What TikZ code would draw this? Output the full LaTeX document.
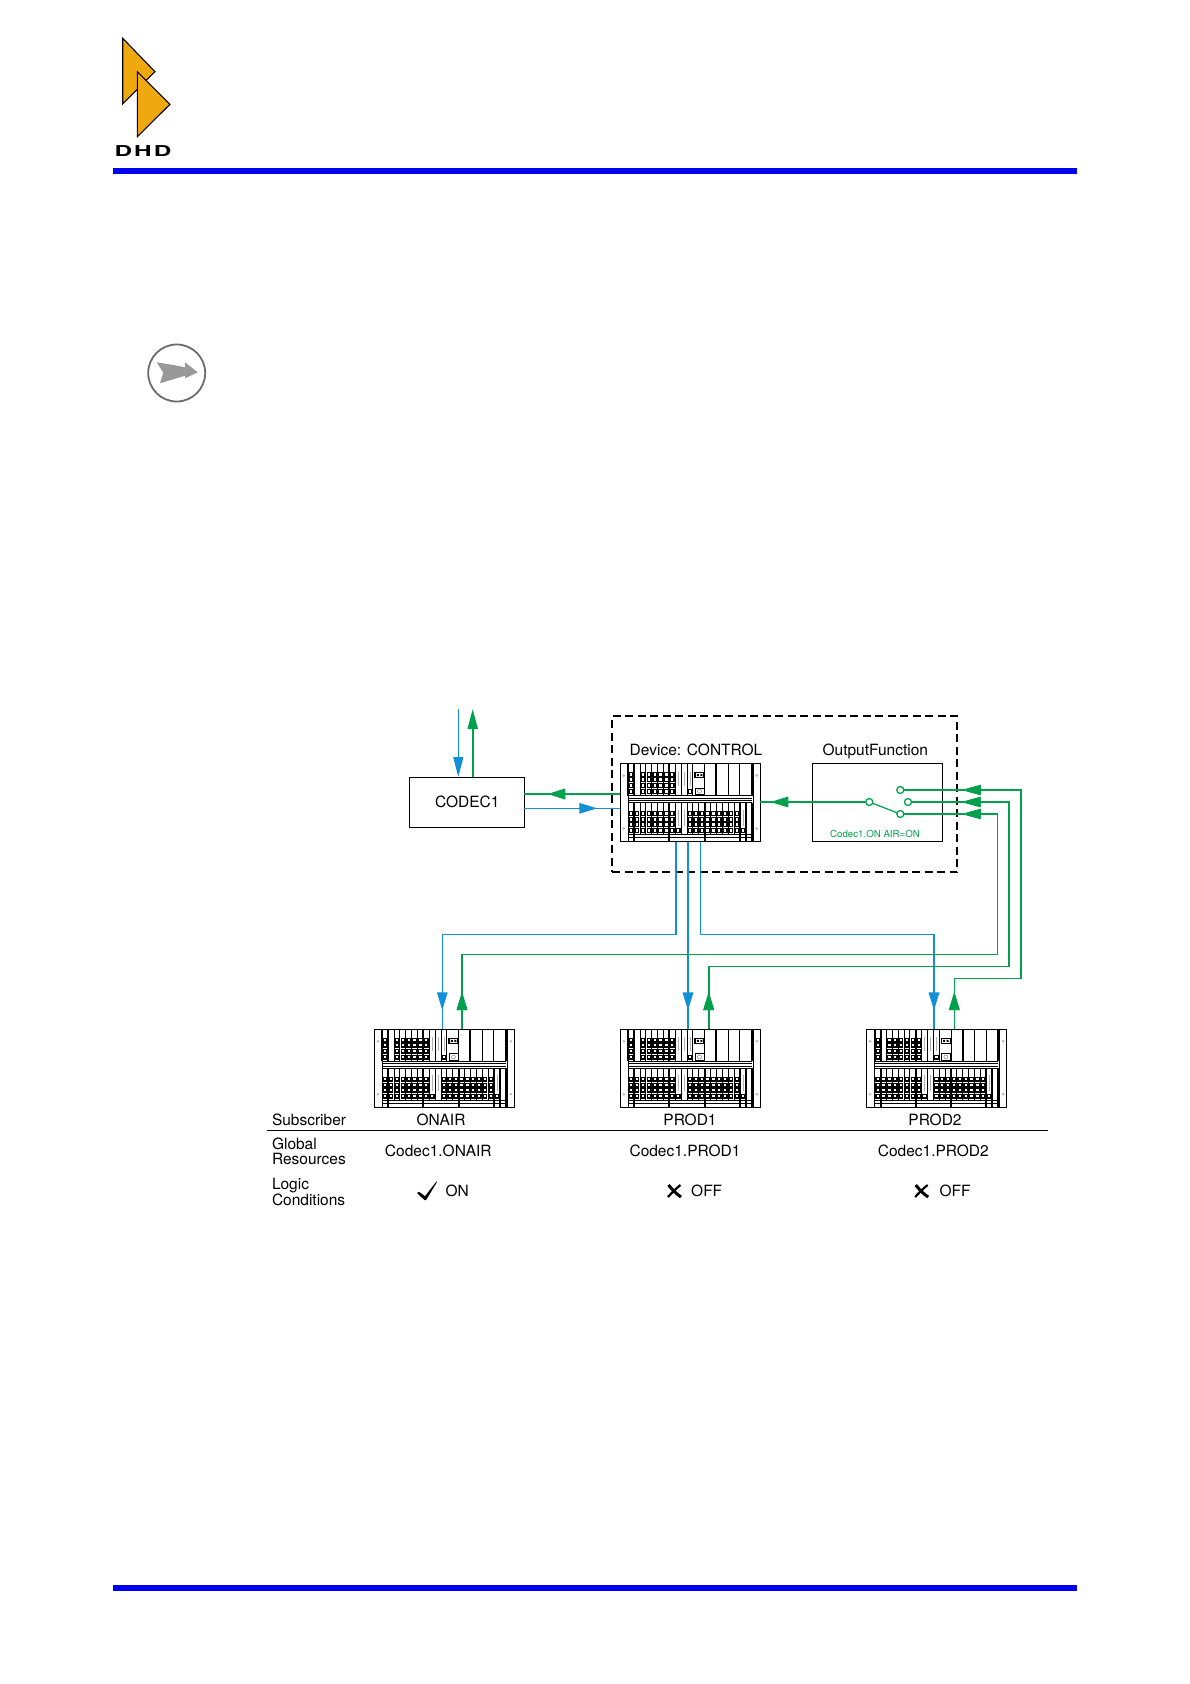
\documentclass[tikz,border=0pt]{standalone}
\usepackage{fontspec}
\setmainfont{TeX Gyre Heros}
\usetikzlibrary{arrows.meta,decorations.markings}
\definecolor{lblue}{HTML}{1190D6}
\definecolor{lgreen}{HTML}{00A04C}
\definecolor{dhdorange}{HTML}{EFA90F}
\definecolor{barblue}{HTML}{0000F0}
\newcommand{\rackk}[2]{%
  \node[rackbox,anchor=north west] (#1) at (#2) {};
  \begin{scope}[shift={(#1.north west)}]
    \foreach \k in {0,...,21} \draw[line width=.9] ({8+5.87*\k},39) -- ({8+5.87*\k},71);
    \foreach \k in {1,7,13,19,20,21} \draw[line width=1.9] ({8+5.87*\k},39) -- ({8+5.87*\k},78);
    \foreach \k in {0,...,11,13,15,17,19,21} \draw[line width=.9] ({8+5.87*\k},0) -- ({8+5.87*\k},32);
    \foreach \k in {0,1,7,15,21} \draw[line width=1.9] ({8+5.87*\k},0) -- ({8+5.87*\k},32);
    \draw[line width=1] (8,0) -- (8,78) (133,0) -- (133,78);
    \draw[line width=1.4] (8,0) -- (133,0);
    \foreach \yy in {32,34.5,37,39,71,74} \draw[line width=1] (8,\yy) -- (131.3,\yy);
    \foreach \k in {0,2,3,4,5,6,7} \foreach \r in {11,16,22,28}
      \draw[line width=1.2,fill=white] ({9.2+5.87*\k},{\r-1.8}) rectangle +(3.5,3.5);
    \foreach \k in {0,1,2,3,4,5,6,7,10,11,12,13,14,15,16,17,18} \foreach \r in {50,56,61,67}
      \draw[line width=1.2,fill=white] ({9.2+5.87*\k},{\r-1.8}) rectangle +(3.5,3.5);
    \foreach \k in {8,19} \draw[line width=1.2,fill=white] ({9.2+5.87*\k},65.2) rectangle +(3.5,3.5);
    \draw[line width=1.2,fill=white] ({9.2+5.87*10},26.2) rectangle +(3.5,3.5);
    \foreach \k in {8,9,10} \draw[gray!60,line width=.5] ({11+5.87*\k},8) -- ({11+5.87*\k},22);
    \foreach \k in {8,9,19} \draw[gray!60,line width=.5] ({11+5.87*\k},46) -- ({11+5.87*\k},62);
    \draw[line width=1.3,fill=white] (74.7,9) rectangle (83.7,14);
    \fill (76.5,10.5) rectangle +(2,2) (80,10.5) rectangle +(2,2);
    \draw[line width=1] (74.7,24.5) rectangle (83.7,31);
    \draw[gray,line width=.5] (79.2,27.7) circle (2);
    \foreach \xx in {3.5,136.5} \foreach \yy in {12,65} \draw[gray!70,line width=.5] (\xx,\yy) circle (1);
  \end{scope}}
\tikzset{
  rackbox/.style={draw,line width=1,rectangle,minimum width=140pt,minimum height=78pt,inner sep=0pt,outer sep=0pt},
  plainbox/.style={draw,line width=1,rectangle,inner sep=0pt,outer sep=0pt},
  dashbox/.style={draw,line width=1.1,rectangle,dash pattern=on 8pt off 4.5pt,inner sep=0pt,outer sep=0pt},
  lab/.style={anchor=base,inner sep=0pt,outer sep=0pt,font=\fontsize{15.5}{15.5}\selectfont},
  labl/.style={lab,anchor=base west},
  thinb/.style={draw=lblue,line width=1.2},
  thickb/.style={draw=lblue,line width=2},
  thing/.style={draw=lgreen,line width=1.2},
  thickg/.style={draw=lgreen,line width=2.2},
  pin/.style={circle,draw=lgreen,fill=white,line width=1.3,minimum size=7pt,inner sep=0pt,outer sep=0pt},
  headat/.style={decoration={markings,mark=at position #1 with {\arrow{Triangle[length=18pt,width=10.5pt]}}},postaction={decorate}},
  inhead/.style={decoration={markings,mark=at position #1 with {\arrow[lgreen]{Triangle[length=19pt,width=10pt]}}},postaction={decorate}},
  barstyle/.style={fill=barblue},
}
\begin{document}
\begin{tikzpicture}[x=1pt,y=-1pt]
\useasboundingbox[fill=white] (0,0) rectangle (1190,1684);
% page furniture
\fill[barstyle] (113,168) rectangle (1076.7,174);
\fill[barstyle] (113,1585) rectangle (1076.7,1591);
\draw[fill=dhdorange,line width=1.1,line join=miter] (122.7,38.3) -- (155,71.7) -- (122.7,104) -- cycle;
\draw[fill=dhdorange,line width=1.1,line join=miter] (137.3,71.7) -- (170,104.3) -- (137.3,136.7) -- cycle;
\node[anchor=base,inner sep=0pt] (dhd) at (143,156.7) {\fontsize{15}{15}\selectfont\bfseries\scalebox{1.62}[1]{D\kern1.3pt H\kern1.3pt D}};
% note icon
\draw[gray!85!black,line width=1.8] (176.7,373) circle (28.5);
\fill[gray!80] (156.7,362.3) -- (173.3,365) -- (185,367.3) -- (185,362.3) -- (197.7,372.3) -- (185,378.3) -- (185,375.7) -- (160,383.3) -- (163.3,372.7) -- cycle;
% boxes
\node[dashbox,anchor=north west,minimum width=345pt,minimum height=156pt] (dev) at (612,716) {};
\node[plainbox,anchor=north west,minimum width=115pt,minimum height=50pt] (codec) at (409.3,777) {};
\node[lab] (codectxt) at (467.3,807.3) {CODEC1};
\node[plainbox,anchor=north west,minimum width=130.4pt,minimum height=78pt] (ofbox) at (812.3,763) {};
\node[lab] (devtxt) at (696,755) {Device: CONTROL};
\node[lab] (oftxt) at (875.3,755) {OutputFunction};
\node[lab,text=lgreen,font=\fontsize{9.7}{9.7}\selectfont] (oncond) at (875,837.7) {Codec1.ON AIR=ON};
\rackk{ctrl}{620.3,763.5}
\rackk{onair}{374.3,1029.3}
\rackk{prodone}{620.3,1029.3}
\rackk{prodtwo}{866.7,1029.3}
% switch
\node[pin] (c0) at (869.3,802) {};
\node[pin] (c1) at (900.3,790) {};
\node[pin] (c2) at (908,802) {};
\node[pin] (c3) at (900.3,814) {};
\draw[thing] (c0) -- (c3);
% free ends and attachment columns
\coordinate (topin) at (458.3,709);
\coordinate (topout) at (472.7,709);
\coordinate (rowg) at (0,794);
\coordinate (rowb) at (0,808.3);
\coordinate (bxa) at (676,0);
\coordinate (bxb) at (688,0);
\coordinate (bxc) at (700.7,0);
\coordinate (bon) at (442.3,0);
\coordinate (bptwo) at (934,0);
\coordinate (gon) at (462,0);
\coordinate (gpone) at (708.7,0);
\coordinate (gptwo) at (954.3,0);
% codec connectors
\draw[thinb,-{Triangle[length=20pt,width=10pt]}] (topin) -- (topin |- codec.north);
\draw[thickg,-{Triangle[length=20pt,width=10pt]}] (topout |- codec.north) -- (topout);
\draw[thickg,headat=73pt] (ctrl.west |- rowg) -- (codec.east |- rowg);
\draw[thinb,headat=73pt] (codec.east |- rowb) -- (ctrl.west |- rowb);
\draw[thing,line width=1.6,headat=-10pt] (c0) -- (ctrl.east |- c0);
% blue lines down
\draw[thinb,line width=1.9] (ctrl.south -| bxa) -- (676,934.3);
\draw[thinb,headat=-19pt] (ctrl.south -| bxa) -- (676,934.3) -- (442.3,934.3) -- (onair.north -| bon);
\draw[thickb,headat=-19pt] (ctrl.south -| bxb) -- (prodone.north -| bxb);
\draw[thinb] (ctrl.south -| bxc) -- (700.7,934.3) -- (934,934.3) -- (934,960);
\draw[thickb,headat=-19pt] (934,934.3) -- (prodtwo.north -| bptwo);
% green lines up
\draw[thickg] (onair.north -| gon) -- (462,954.3);
\draw[thing,headat=37.3pt,line width=1.4,inhead=-58pt] (onair.north -| gon) -- (462,954.3) -- (997.3,954.3) -- (997.3,814) -- (c3.east);
\draw[thing,line width=1.6,headat=37.3pt,inhead=-50pt] (prodone.north -| gpone) -- (708.7,966.3) -- (1009,966.3) -- (1009,802) -- (c2.east);
\draw[thing,line width=1.3,headat=37.3pt,inhead=-58pt] (prodtwo.north -| gptwo) -- (954.3,978.3) -- (1021,978.3) -- (1021,790) -- (c1.east);
% table
\node[labl] (sub) at (272,1125) {Subscriber};
\node[lab] (hon) at (441,1125) {ONAIR};
\node[lab] (hpone) at (690,1125) {PROD1};
\node[lab] (hptwo) at (935,1125) {PROD2};
\coordinate (rulea) at (267,1130.3);
\coordinate (ruleb) at (1048,1130.3);
\draw[line width=.9] (rulea) -- (ruleb);
\node[labl] (gl) at (272,1149.3) {Global};
\node[labl] (res) at (272,1164.3) {Resources};
\node[lab] (ca) at (438.3,1156.7) {Codec1.ONAIR};
\node[lab] (cb) at (685,1156.7) {Codec1.PROD1};
\node[lab] (cc) at (933.3,1156.7) {Codec1.PROD2};
\node[labl] (lo) at (272,1189.3) {Logic};
\node[labl] (co) at (272,1205) {Conditions};
\node[lab] (son) at (457.3,1196.7) {ON};
\node[lab] (soffa) at (706.7,1196.7) {OFF};
\node[lab] (soffb) at (955,1196.7) {OFF};
\fill (417,1193) -- (419,1191.8) -- (425,1196.2) -- (436.4,1181.5) -- (437,1182) -- (426,1200.2) -- (424.6,1200.2) -- cycle;
\foreach \cx in {674.5,921.7} {
  \draw[line width=3] (\cx-6,1185) .. controls (\cx-2,1190) and (\cx+2,1194) .. (\cx+6.5,1197);
  \draw[line width=2.2] (\cx+6,1185) .. controls (\cx+2,1188) and (\cx-3,1193) .. (\cx-6.5,1197);
}
\end{tikzpicture}
\end{document}
